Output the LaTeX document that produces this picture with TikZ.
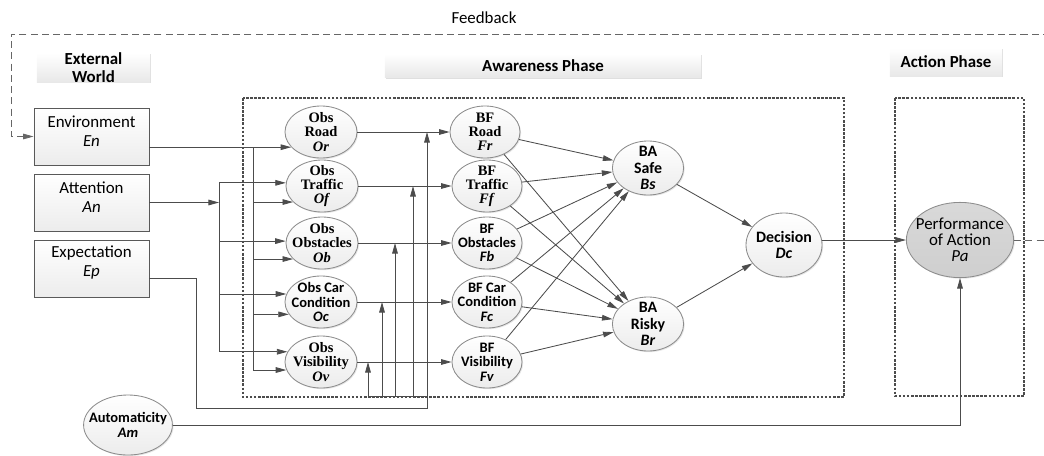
\documentclass[tikz,border=0pt]{standalone}
\usepackage{fontspec}
\setmainfont{Carlito}
\newfontfamily\seriffont{Liberation Serif}
\usetikzlibrary{arrows.meta,shapes.geometric,shadows}
\definecolor{wire}{gray}{0.3}
\definecolor{rim}{gray}{0.55}
\begin{document}
\begin{tikzpicture}[x=0.025cm,y=-0.025cm,>={Triangle[length=7.5pt,width=4pt]},
    wireline/.style={color=wire,line width=0.6pt},
    feedline/.style={color=black!60,line width=0.6pt,dash pattern=on 5pt off 3pt},
    phasebox/.style={draw=black!70,line width=1.3pt,dash pattern=on 1.8pt off 1.1pt},
    headbox/.style={rectangle,top color=white,bottom color=gray!18,
      drop shadow={opacity=0.25,shadow xshift=1pt,shadow yshift=-1pt}},
    inbox/.style={rectangle,draw=black!65,line width=0.6pt,top color=white,bottom color=gray!15,
      minimum width=2.875cm,minimum height=1.425cm,
      drop shadow={opacity=0.2,shadow xshift=1pt,shadow yshift=-1pt}},
    bubble/.style={ellipse,draw=rim,line width=0.6pt,top color=white,bottom color=gray!15,
      drop shadow={opacity=0.2,shadow xshift=0.8pt,shadow yshift=-0.8pt}},
    obsnode/.style={bubble,minimum width=1.8cm,minimum height=1.3cm},
    bfnode/.style={bubble,minimum width=1.75cm,minimum height=1.3cm},
    banode/.style={bubble,minimum width=1.78cm,minimum height=1.35cm},
    serifbf/.style={align=center,font=\seriffont\bfseries\fontsize{10.3}{10}\selectfont},
    sansbf/.style={align=center,font=\bfseries\fontsize{10.3}{10.2}\selectfont},
    sansbig/.style={align=center,font=\bfseries\fontsize{11.3}{11.5}\selectfont},
    perftext/.style={align=center,font=\fontsize{12}{11.5}\selectfont},
    headtext/.style={align=center,font=\bfseries\fontsize{12}{13}\selectfont},
    boxtext/.style={align=center,font=\fontsize{12}{13.5}\selectfont,yshift=4pt}]
  \path[use as bounding box] (0,0) rectangle (1044,455);
  \clip (0,0) rectangle (1044,455);

  \node[font=\fontsize{12}{14}\selectfont] (fbtext) at (484,18) {Feedback};
  \node[headbox,minimum width=2.825cm,minimum height=0.725cm,
    label={[headtext]center:{External\\World}}] (extw) at (93.5,67.5) {};
  \node[headbox,minimum width=7.9cm,minimum height=0.6cm,
    label={[headtext]center:{Awareness Phase}}] (awp) at (543,65.5) {};
  \node[headbox,minimum width=2.8cm,minimum height=0.7cm,
    label={[headtext]center:{Action Phase}}] (acp) at (946,62) {};

  \draw[phasebox] (243,98) rectangle (844,397);
  \draw[phasebox] (895,98) rectangle (1024,396);

  \node[inbox,label={[boxtext]center:{Environment\\\textit{En}}}] (env) at (91.5,136.5) {};
  \node[inbox,label={[boxtext]center:{Attention\\\textit{An}}}] (att) at (91.5,202.5) {};
  \node[inbox,label={[boxtext]center:{Expectation\\\textit{Ep}}}] (exp) at (91.5,268.5) {};
  \node[bubble,minimum width=2.22cm,minimum height=1.5cm,
    label={[sansbf]center:{Automaticity\\\textit{Am}}}] (autom) at (128,425) {};

  \node[obsnode,label={[serifbf]center:{Obs\\Road\\\textit{Or}}}] (obsR) at (321,132) {};
  \node[obsnode,label={[serifbf]center:{Obs\\Traffic\\\textit{Of}}}] (obsT) at (322,186) {};
  \node[obsnode,label={[serifbf]center:{Obs\\Obstacles\\\textit{Ob}}}] (obsO) at (322,243) {};
  \node[obsnode,label={[sansbf]center:{Obs Car\\Condition\\\textit{Oc}}}] (obsC) at (321,302) {};
  \node[obsnode,label={[serifbf]center:{Obs\\Visibility\\\textit{Ov}}}] (obsV) at (321,362) {};

  \node[bfnode,label={[serifbf]center:{BF\\Road\\\textit{Fr}}}] (bfR) at (485,132) {};
  \node[bfnode,label={[serifbf]center:{BF\\Traffic\\\textit{Ff}}}] (bfT) at (487,186) {};
  \node[bfnode,label={[sansbf]center:{BF\\Obstacles\\\textit{Fb}}}] (bfO) at (487,243) {};
  \node[bfnode,label={[sansbf]center:{BF Car\\Condition\\\textit{Fc}}}] (bfC) at (487,302) {};
  \node[bfnode,label={[sansbf]center:{BF\\Visibility\\\textit{Fv}}}] (bfV) at (487,362) {};

  \node[banode,label={[sansbig]center:{BA\\Safe\\\textit{Bs}}}] (baS) at (648,168) {};
  \node[banode,label={[sansbig]center:{BA\\Risky\\\textit{Br}}}] (baR) at (648,324) {};
  \node[bubble,minimum width=1.9cm,minimum height=1.6cm,
    label={[sansbig]center:{Decision\\\textit{Dc}}}] (dec) at (784,245) {};
  \node[bubble,top color=gray!30,bottom color=gray!38,minimum width=2.68cm,minimum height=1.88cm,
    label={[perftext]center:{Performance\\of Action\\\textit{Pa}}}] (perf) at (960,240) {};

  \coordinate (fbL) at (11,34);
  \coordinate (fbR) at (1050,34);
  \coordinate (fbO) at (1050,240);
  \draw[feedline,->] (fbR) -- (fbL) |- (env.west);
  \draw[feedline] (perf.east) -- (fbO);

  \coordinate (envbus) at (253,0);
  \coordinate (attbus) at (219,0);
  \coordinate (expbus) at (196,0);
  \draw[wireline,->] (env.east |- obsR.207) -- (obsR.207);
  \draw[wireline] (envbus |- obsR.207) -- (envbus |- obsV.193);
  \foreach \n/\a in {obsT/209,obsO/209,obsC/201,obsV/193}
    \draw[wireline,->] (envbus |- \n.\a) -- (\n.\a);
  \draw[wireline,->] (att.east) -- (attbus |- att.east);
  \draw[wireline] (attbus |- obsT.175) -- (attbus |- obsV.163);
  \foreach \n/\a in {obsT/175,obsO/177,obsC/167,obsV/163}
    \draw[wireline,->] (attbus |- \n.\a) -- (\n.\a);

  \coordinate (modR) at (427,408);
  \coordinate (modV) at (368,396);
  \coordinate (modC) at (382,396);
  \coordinate (modO) at (395,396);
  \coordinate (modT) at (413,396);
  \draw[wireline,->] (exp.-10) -| (expbus |- modR) -- (modR) -- (modR |- obsR.east);
  \draw[wireline] (modR |- modV) -- (modV);
  \foreach \m/\n in {modV/obsV,modC/obsC,modO/obsO,modT/obsT}
    \draw[wireline,->] (\m) -- (\m |- \n.east);

  \foreach \a/\b in {obsR/bfR,obsT/bfT,obsO/bfO,obsC/bfC,obsV/bfV}
    \draw[wireline,->] (\a) -- (\b);
  \foreach \a in {bfR,bfT,bfO,bfC,bfV}
    {\draw[wireline,->] (\a) -- (baS); \draw[wireline,->] (\a) -- (baR);}
  \draw[wireline,->] (baS) -- (dec);
  \draw[wireline,->] (baR) -- (dec);
  \draw[wireline,->] (dec.east |- perf.west) -- (perf.west);
  \draw[wireline,->] (autom.east) -| (perf.south);
\end{tikzpicture}
\end{document}
